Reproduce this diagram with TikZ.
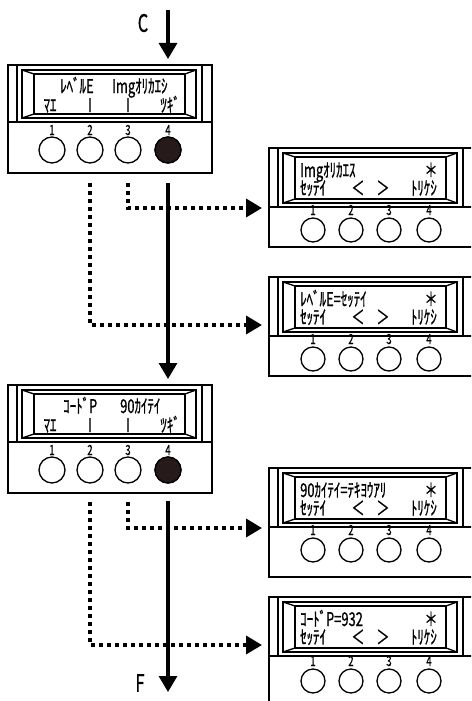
\documentclass[tikz,border=0pt]{standalone}
\usepackage{fontspec}
\newfontfamily\lcdfont[FakeStretch=0.68,FakeBold=0.8]{Noto Sans CJK JP}
\usetikzlibrary{arrows.meta}
\definecolor{keydark}{RGB}{38,26,26}
\newdimen\unitsize
\setlength{\unitsize}{1pt}

% name, x, y, display height, key row, height, key size
\newcommand{\lcdpanel}[7]{%
  \begin{scope}[shift={(#2,#3)}]
    \coordinate (#1) at (0,0);
    \coordinate (#1-base) at (0,#6);
    \draw[frame] (0,0) rectangle (204,#6);
    \draw[frame] (0,#4) -- (204,#4);
    \draw[frame] (9,0) -- (9,#4) (194,0) -- (194,#4);
    \draw[frame] (14,5) rectangle (188,#4-4);
    \draw[frame] (26,9) rectangle (177,#4-8);
    \draw[frame] (14,5) -- (26,9) (188,5) -- (177,9)
                 (14,#4-4) -- (26,#4-8) (188,#4-4) -- (177,#4-8);
    \foreach \kn/\kx in {1/44,2/82,3/120,4/160}{
      \node[key, minimum size=#7] (#1k\kn) at (\kx,#5) {};
      \node[keyno] (#1n\kn) at (\kx,#5-15) {\kn};
    }
  \end{scope}}

\begin{document}
\begin{tikzpicture}[x=\unitsize,y=-\unitsize,
  frame/.style={line width=1.3},
  key/.style={circle, draw, line width=1.3, inner sep=0},
  lit/.style={fill=keydark},
  keyno/.style={anchor=base, inner sep=0, font=\lcdfont\fontsize{14}{14}\selectfont},
  lcd/.style={inner sep=0, text height=14, text depth=2, font=\lcdfont\fontsize{19}{19}\selectfont},
  tag/.style={inner sep=0, font=\lcdfont\fontsize{24}{24}\selectfont},
  flow/.style={line width=3.2, -{Triangle[length=16pt,width=18pt]}},
  jump/.style={line width=3.6, dash pattern=on 3.6 off 4.4, -{Triangle[length=16pt,width=18pt]}}]
\clip (0,0) rectangle (471,701);

% left panels
\lcdpanel{l1}{8}{65}{57}{85}{108}{26}
\lcdpanel{l2}{8}{385}{57}{85}{108}{26}
\node[key, lit, minimum size=26] (l1on) at (l1k4) {};
\node[key, lit, minimum size=26] (l2on) at (l2k4) {};

% right panels
\lcdpanel{ra}{269}{148}{59}{82}{99}{24}
\lcdpanel{rb}{269}{277}{59}{82}{99}{24}
\lcdpanel{rc}{269}{468}{59}{82}{109}{24}
\lcdpanel{rd}{269}{597}{59}{84}{109}{24}

% left panel texts
\node[lcd, anchor=base west] (l1a) at ([shift={(52,28)}]l1) {ﾚﾍﾞﾙE};
\node[lcd, anchor=base west] (l1b) at ([shift={(104,28)}]l1) {Imgｵﾘｶｴｼ};
\node[lcd, anchor=base west] (l2a) at ([shift={(55,28)}]l2) {ｺｰﾄﾞP};
\node[lcd, anchor=base west] (l2b) at ([shift={(112,28)}]l2) {90ｶｲﾃｲ};
\foreach \pn in {l1,l2}{
  \node[lcd, anchor=base] (\pn m1) at ([shift={(42,47)}]\pn) {ﾏｴ};
  \node[lcd, anchor=base] (\pn m2) at ([shift={(82,47)}]\pn) {I};
  \node[lcd, anchor=base] (\pn m3) at ([shift={(120,47)}]\pn) {I};
  \node[lcd, anchor=base east] (\pn m4) at ([shift={(172,47)}]\pn) {ﾂｷﾞ};
}

% right panel texts
\node[lcd, anchor=base west] (rat) at ([shift={(31,29)}]ra) {Imgｵﾘｶｴｽ};
\node[lcd, anchor=base west] (rbt) at ([shift={(31,29)}]rb) {ﾚﾍﾞﾙE=ｾｯﾃｲ};
\node[lcd, anchor=base west] (rct) at ([shift={(31,29)}]rc) {90ｶｲﾃｲ=ﾃｷﾖｳｱﾘ};
\node[lcd, anchor=base west] (rdt) at ([shift={(31,29)}]rd) {ｺｰﾄﾞP=932};
\foreach \pn in {ra,rb,rc,rd}{
  \node[lcd, anchor=base] (\pn s) at ([shift={(162,29)}]\pn) {＊};
  \node[lcd, anchor=base west] (\pn m1) at ([shift={(31,47)}]\pn) {ｾｯﾃｲ};
  \node[lcd, anchor=base] (\pn m2) at ([shift={(89,47)}]\pn) {＜};
  \node[lcd, anchor=base] (\pn m3) at ([shift={(114,47)}]\pn) {＞};
  \node[lcd, anchor=base east] (\pn m4) at ([shift={(168,47)}]\pn) {ﾄﾘｹｼ};
}

% main flow
\node[tag] (clab) at (143,23) {C};
\node[tag] (flab) at (140,683) {F};
\coordinate (fend) at (168,692);
\draw[flow] ([yshift=55]l1k4 |- l1) -- ([yshift=6]l1k4 |- l1);
\draw[flow] ([yshift=-10]l1k4 |- l1-base) -- ([yshift=6]l2k4 |- l2);
\draw[flow] ([yshift=-8]l2k4 |- l2-base) -- (fend);

% side jumps
\draw[jump] ([yshift=-10]l1k3 |- l1-base) |- ([shift={(-7,60)}]ra);
\draw[jump] ([yshift=-10]l1k2 |- l1-base) |- ([shift={(-7,48)}]rb);
\draw[jump] ([yshift=-9]l2k3 |- l2-base) |- ([shift={(-7,60)}]rc);
\draw[jump] ([yshift=-9]l2k2 |- l2-base) |- ([shift={(-7,48)}]rd);
\end{tikzpicture}
\end{document}
